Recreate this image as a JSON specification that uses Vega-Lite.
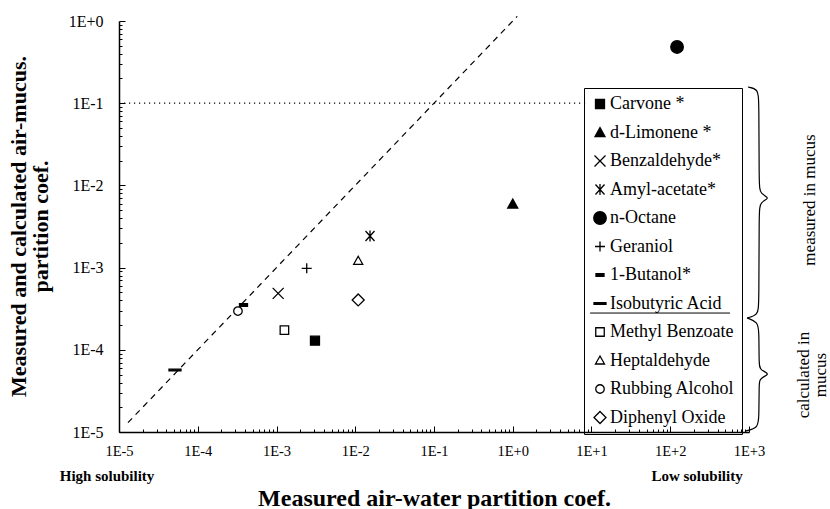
{
  "$schema": "https://vega.github.io/schema/vega-lite/v6.json",
  "width": 630,
  "height": 411,
  "autosize": "none",
  "padding": {"left": 119, "top": 21, "right": 81, "bottom": 77},
  "background": "white",
  "config": {
    "view": {"stroke": null},
    "font": "Liberation Serif",
    "text": {"font": "Liberation Serif", "color": "black"}
  },
  "encoding": {
    "x": {
      "field": "x",
      "type": "quantitative",
      "scale": {"type": "log", "domain": [0.00001, 1000], "nice": false},
      "axis": {
        "title": "Measured air-water partition coef.",
        "titleFont": "Liberation Serif",
        "titleFontSize": 24,
        "titleFontWeight": "bold",
        "titleColor": "black",
        "titleBaseline": "middle",
        "titleY": 66,
        "values": [0.00001, 0.00002, 0.00003, 0.00004, 0.00005, 0.00006, 0.00007, 0.00008, 0.00009,
                   0.0001, 0.0002, 0.0003, 0.0004, 0.0005, 0.0006, 0.0007, 0.0008, 0.0009,
                   0.001, 0.002, 0.003, 0.004, 0.005, 0.006, 0.007, 0.008, 0.009,
                   0.01, 0.02, 0.03, 0.04, 0.05, 0.06, 0.07, 0.08, 0.09,
                   0.1, 0.2, 0.3, 0.4, 0.5, 0.6, 0.7, 0.8, 0.9,
                   1, 2, 3, 4, 5, 6, 7, 8, 9,
                   10, 20, 30, 40, 50, 60, 70, 80, 90,
                   100, 200, 300, 400, 500, 600, 700, 800, 900, 1000],
        "labelExpr": "abs(log(datum.value)/LN10 - round(log(datum.value)/LN10)) < 0.001 ? '1E' + (round(log(datum.value)/LN10) >= 0 ? '+' : '') + round(log(datum.value)/LN10) : ''",
        "labelFont": "Liberation Serif",
        "labelFontSize": 14.5,
        "labelColor": "black",
        "labelPadding": 18,
        "labelOverlap": false,
        "labelFlush": false,
        "grid": false,
        "ticks": true,
        "domainColor": "black",
        "domainWidth": 1.5,
        "tickColor": "black",
        "tickWidth": 1,
        "tickSize": {"condition": {"test": "abs(log(datum.value)/LN10 - round(log(datum.value)/LN10)) < 0.001", "value": -6}, "value": -3}
      }
    },
    "y": {
      "field": "y",
      "type": "quantitative",
      "scale": {"type": "log", "domain": [0.00001, 1], "nice": false},
      "axis": {
        "title": ["Measured and calculated air-mucus.", "partition coef."],
        "titleFont": "Liberation Serif",
        "titleFontSize": 22,
        "titleFontWeight": "bold",
        "titleColor": "black",
        "titleAngle": 270,
        "titleAlign": "center",
        "titleBaseline": "middle",
        "titleLineHeight": 22,
        "titleX": -101,
        "titleY": 205,
        "values": [0.00001, 0.00002, 0.00003, 0.00004, 0.00005, 0.00006, 0.00007, 0.00008, 0.00009,
                   0.0001, 0.0002, 0.0003, 0.0004, 0.0005, 0.0006, 0.0007, 0.0008, 0.0009,
                   0.001, 0.002, 0.003, 0.004, 0.005, 0.006, 0.007, 0.008, 0.009,
                   0.01, 0.02, 0.03, 0.04, 0.05, 0.06, 0.07, 0.08, 0.09,
                   0.1, 0.2, 0.3, 0.4, 0.5, 0.6, 0.7, 0.8, 0.9, 1],
        "labelExpr": "abs(log(datum.value)/LN10 - round(log(datum.value)/LN10)) < 0.001 ? '1E' + (round(log(datum.value)/LN10) >= 0 ? '+' : '') + round(log(datum.value)/LN10) : ''",
        "labelFont": "Liberation Serif",
        "labelFontSize": 16,
        "labelColor": "black",
        "labelPadding": 22,
        "labelOverlap": false,
        "labelFlush": false,
        "grid": false,
        "ticks": true,
        "domainColor": "black",
        "domainWidth": 1.5,
        "tickColor": "black",
        "tickWidth": 1,
        "tickSize": {"condition": {"test": "abs(log(datum.value)/LN10 - round(log(datum.value)/LN10)) < 0.001", "value": -6}, "value": -3}
      }
    }
  },
  "layer": [
    {
      "description": "1:1 reference line",
      "data": {"values": [{"x": 0.000013, "y": 0.000013}, {"x": 1.14, "y": 1.14}]},
      "mark": {"type": "line", "color": "black", "strokeWidth": 1.2, "strokeDash": [6, 5]}
    },
    {
      "description": "dotted level at 0.1",
      "data": {"values": [{"x": 0.00001, "x2": 8.3, "y": 0.1}]},
      "mark": {"type": "rule", "color": "black", "strokeWidth": 1.2, "strokeDash": [1.2, 3.8]},
      "encoding": {"x2": {"field": "x2"}}
    },
    {
      "description": "divider between measured and calculated compounds in the key",
      "data": {"values": [{"x": 9.6, "x2": 574, "y": 0.00028}]},
      "mark": {"type": "rule", "color": "black", "strokeWidth": 1},
      "encoding": {"x2": {"field": "x2"}}
    },
    {
      "description": "curly braces grouping the key",
      "data": {"values": [
        {"brace": "measured", "order": 1, "x": 970.6, "y": 0.1574},
        {"brace": "measured", "order": 2, "x": 1300, "y": 0.1489},
        {"brace": "measured", "order": 3, "x": 1340, "y": 0.1094},
        {"brace": "measured", "order": 4, "x": 1340, "y": 0.01012},
        {"brace": "measured", "order": 5, "x": 1380, "y": 0.00785},
        {"brace": "measured", "order": 6, "x": 1900, "y": 0.00703},
        {"brace": "measured", "order": 7, "x": 1380, "y": 0.00628},
        {"brace": "measured", "order": 8, "x": 1340, "y": 0.00489},
        {"brace": "measured", "order": 9, "x": 1340, "y": 0.000351},
        {"brace": "measured", "order": 10, "x": 1300, "y": 0.000265},
        {"brace": "measured", "order": 11, "x": 944, "y": 0.000244},
        {"brace": "calculated", "order": 1, "x": 944, "y": 0.000244},
        {"brace": "calculated", "order": 2, "x": 1300, "y": 0.000218},
        {"brace": "calculated", "order": 3, "x": 1340, "y": 0.000165},
        {"brace": "calculated", "order": 4, "x": 1340, "y": 0.0000653},
        {"brace": "calculated", "order": 5, "x": 1380, "y": 0.0000567},
        {"brace": "calculated", "order": 6, "x": 1900, "y": 0.0000508},
        {"brace": "calculated", "order": 7, "x": 1380, "y": 0.0000454},
        {"brace": "calculated", "order": 8, "x": 1340, "y": 0.0000394},
        {"brace": "calculated", "order": 9, "x": 1340, "y": 0.0000148},
        {"brace": "calculated", "order": 10, "x": 1300, "y": 0.0000112},
        {"brace": "calculated", "order": 11, "x": 916, "y": 0.0000103}
      ]},
      "mark": {"type": "line", "color": "black", "strokeWidth": 1.2, "interpolate": "basis"},
      "encoding": {
        "detail": {"field": "brace"},
        "order": {"field": "order", "type": "quantitative"}
      }
    },
    {
      "description": "partition coefficients",
      "data": {"values": [
        {"compound": "Carvone *", "x": 0.00308, "y": 0.000129},
        {"compound": "d-Limonene *", "x": 1.0, "y": 0.00594},
        {"compound": "Benzaldehyde*", "x": 0.00105, "y": 0.000486},
        {"compound": "Amyl-acetate*", "x": 0.0154, "y": 0.00242},
        {"compound": "n-Octane", "x": 122, "y": 0.483},
        {"compound": "Geraniol", "x": 0.00242, "y": 0.00098},
        {"compound": "1-Butanol*", "x": 0.000381, "y": 0.000351},
        {"compound": "Isobutyric Acid", "x": 0.0000514, "y": 0.0000567},
        {"compound": "Methyl Benzoate", "x": 0.00126, "y": 0.000174},
        {"compound": "Heptaldehyde", "x": 0.0109, "y": 0.00121},
        {"compound": "Rubbing Alcohol", "x": 0.000324, "y": 0.000296},
        {"compound": "Diphenyl Oxide", "x": 0.0109, "y": 0.000404}
      ]},
      "mark": {"type": "point", "strokeWidth": 1.3, "opacity": 1, "size": 100},
      "encoding": {
        "shape": {
          "field": "compound",
          "type": "nominal",
          "scale": {
            "domain": ["Carvone *", "d-Limonene *", "Benzaldehyde*", "Amyl-acetate*", "n-Octane", "Geraniol", "1-Butanol*", "Isobutyric Acid", "Methyl Benzoate", "Heptaldehyde", "Rubbing Alcohol", "Diphenyl Oxide"],
            "range": [
              "M-0.9,-0.9H0.9V0.9H-0.9Z",
              "M0,-1L1,0.8H-1Z",
              "M-1.1,-1.1L1.1,1.1M-1.1,1.1L1.1,-1.1",
              "M-0.9,-1L0.9,1M-0.9,1L0.9,-1M0,-1.1V1.1",
              "M1.25,0C1.25,0.69,0.69,1.25,0,1.25C-0.69,1.25,-1.25,0.69,-1.25,0C-1.25,-0.69,-0.69,-1.25,0,-1.25C0.69,-1.25,1.25,-0.69,1.25,0Z",
              "M-1,0H1M0,-1V1",
              "M-0.8,-0.25H0.8V0.25H-0.8Z",
              "M-1.2,-0.18H1.2V0.18H-1.2Z",
              "M-0.85,-0.85H0.85V0.85H-0.85Z",
              "M0,-0.9L0.9,0.7H-0.9Z",
              "M0.85,0C0.85,0.469,0.469,0.85,0,0.85C-0.469,0.85,-0.85,0.469,-0.85,0C-0.85,-0.469,-0.469,-0.85,0,-0.85C0.469,-0.85,0.85,-0.469,0.85,0Z",
              "M0,-1.2L1.2,0L0,1.2L-1.2,0Z"
            ]
          },
          "legend": {
            "title": null,
            "orient": "none",
            "legendX": 465,
            "legendY": 67,
            "padding": 7,
            "strokeColor": "black",
            "labelFont": "Liberation Serif",
            "labelFontSize": 18,
            "labelColor": "black",
            "labelOffset": 1,
            "rowPadding": 10.5,
            "symbolSize": 100,
            "symbolStrokeWidth": 1.3
          }
        },
        "fill": {
          "field": "compound",
          "type": "nominal",
          "scale": {
            "domain": ["Carvone *", "d-Limonene *", "Benzaldehyde*", "Amyl-acetate*", "n-Octane", "Geraniol", "1-Butanol*", "Isobutyric Acid", "Methyl Benzoate", "Heptaldehyde", "Rubbing Alcohol", "Diphenyl Oxide"],
            "range": ["black", "black", "black", "black", "black", "black", "black", "black", "white", "white", "white", "white"]
          },
          "legend": {
            "title": null,
            "orient": "none",
            "legendX": 465,
            "legendY": 67,
            "padding": 7,
            "strokeColor": "black",
            "labelFont": "Liberation Serif",
            "labelFontSize": 18,
            "labelColor": "black",
            "labelOffset": 1,
            "rowPadding": 10.5,
            "symbolSize": 100,
            "symbolStrokeWidth": 1.3
          }
        },
        "stroke": {
          "field": "compound",
          "type": "nominal",
          "scale": {
            "domain": ["Carvone *", "d-Limonene *", "Benzaldehyde*", "Amyl-acetate*", "n-Octane", "Geraniol", "1-Butanol*", "Isobutyric Acid", "Methyl Benzoate", "Heptaldehyde", "Rubbing Alcohol", "Diphenyl Oxide"],
            "range": ["black", "black", "black", "black", "black", "black", "black", "black", "black", "black", "black", "black"]
          },
          "legend": {
            "title": null,
            "orient": "none",
            "legendX": 465,
            "legendY": 67,
            "padding": 7,
            "strokeColor": "black",
            "labelFont": "Liberation Serif",
            "labelFontSize": 18,
            "labelColor": "black",
            "labelOffset": 1,
            "rowPadding": 10.5,
            "symbolSize": 100,
            "symbolStrokeWidth": 1.3
          }
        }
      }
    },
    {
      "data": {"values": [{"x": 0.00000705, "y": 0.00001, "label": "High solubility"}, {"x": 219, "y": 0.00001, "label": "Low solubility"}]},
      "mark": {"type": "text", "fontSize": 15, "fontWeight": "bold", "align": "center", "baseline": "middle", "dy": 44},
      "encoding": {"text": {"field": "label"}}
    },
    {
      "data": {"values": [{"x": 5960, "y": 0.00664}]},
      "mark": {"type": "text", "text": "measured in mucus", "fontSize": 17, "angle": 270, "align": "center", "baseline": "middle"}
    },
    {
      "data": {"values": [{"x": 5050, "y": 0.0000493}]},
      "mark": {"type": "text", "text": ["calculated in", "mucus"], "fontSize": 17, "lineHeight": 16.5, "angle": 270, "align": "center", "baseline": "middle"}
    }
  ]
}
